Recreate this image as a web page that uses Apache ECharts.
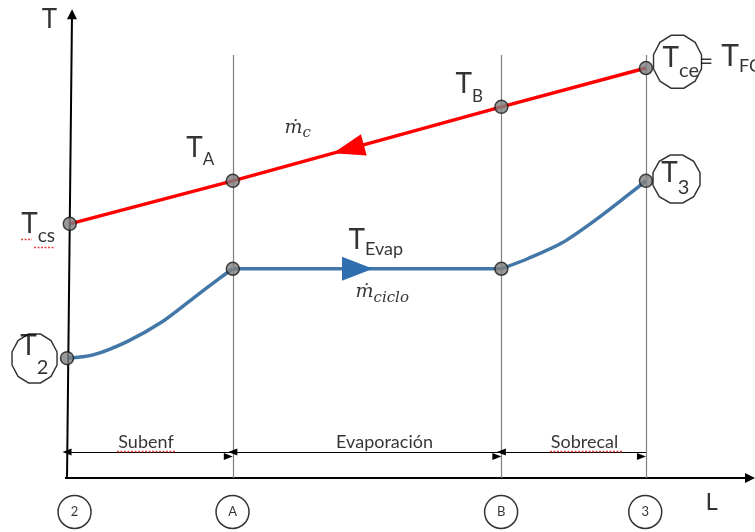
<!DOCTYPE html>
<html>
<head>
<meta charset="utf-8">
<title>Perfil de temperaturas</title>
<script src="https://cdn.jsdelivr.net/npm/echarts@6.0.0/dist/echarts.min.js"></script>
<style>
  html, body { margin: 0; padding: 0; background: #ffffff; }
  #chart { width: 755px; height: 532px; }
</style>
</head>
<body>
<div id="chart"></div>
<script>
// ---- data: temperature profile T along exchanger length L ----
const stationNames = ['2', 'A', 'B', '3'];
const stationL = [0, 24.2, 63.4, 84.5];
// hot stream: T_cs, T_A, T_B, T_ce
const hotL = [0.4, 24.2, 63.4, 84.5];
const hotT = [54.3, 63.5, 79.3, 87.6];
// cold stream: subcooled, evaporating, superheated zones
const coldSubL = [0, 3.8, 8.7, 13.6, 18.4, 22.3, 24.2];
const coldSubT = [25.6, 26.3, 29.1, 33.1, 38.4, 42.7, 44.7];
const coldEvapL = [24.2, 63.4];
const coldEvapT = [44.7, 44.7];
const coldSupL = [63.4, 67.3, 72.2, 77.1, 81.9, 84.5];
const coldSupT = [44.7, 46.9, 50.2, 55.1, 60.5, 63.5];
const zoneNames = ['Subenf', 'Evaporación', 'Sobrecal'];

// ---- layout ----
const LATO = 'Lato';
const SERIF = 'DejaVu Serif';
const RED = '#ff0000';
const BLUE = '#4277a8';
const BLUE_ARROW = '#2f6fb0';
const dimT = 5.56;          // height of the zone dimension arrows
const stationTop = 90.4;    // top of the vertical station lines
const zip = (xs, ys) => xs.map((x, i) => [x, ys[i]]);
function interp(xs, ys, x) {
  for (let i = 1; i < xs.length; i++) {
    if (x <= xs[i]) {
      const t = (x - xs[i - 1]) / (xs[i] - xs[i - 1]);
      return ys[i - 1] + t * (ys[i] - ys[i - 1]);
    }
  }
  return ys[ys.length - 1];
}

// text with a subscript: main glyph followed by a lowered, smaller run
function subLabel(main, sub, F, fs, drop, family, italic) {
  const k = family === LATO ? 0.387 : 0.346;
  const pad = drop + 15 + k * (F - fs) - fs / 2;
  const fontStyle = italic ? 'italic' : 'normal';
  return {
    show: true, position: [0, 0], align: 'left', verticalAlign: 'top',
    formatter: '{a|' + main + '}{b|' + sub + '}',
    rich: {
      a: { fontSize: F, fontFamily: family, fontStyle, color: '#000', height: 30, lineHeight: 30, verticalAlign: 'top' },
      b: { fontSize: fs, fontFamily: family, fontStyle, color: '#000', height: fs, lineHeight: 30,
           padding: [pad, 0, 0, 0], verticalAlign: 'top' }
    }
  };
}
function plainLabel(text, size, family) {
  return {
    show: true, position: [0, 0], align: 'center', verticalAlign: 'middle',
    formatter: text, fontSize: size, fontFamily: family || LATO, color: '#000'
  };
}

// anchor [L, T] of each subscripted label, main size, sub size, drop
const subNotes = [
  ['T', 'cs',   [-6.61, 57.44], 28, 19, 8.3, LATO, false],
  ['T', 'A',    [17.47, 73.68], 28, 17, 7.7, LATO, false],
  ['T', 'B',    [56.78, 87.22], 28, 17, 7.7, LATO, false],
  ['T', 'Evap', [41.16, 53.87], 28, 18, 5.0, LATO, false],
  ['T', 'ce',   [86.99, 92.87], 28, 20, 9.7, LATO, false],
  ['T', '3',    [86.80, 68.37], 28, 20, 12.3, LATO, false],
  ['T', '2',    [-6.76, 31.29], 28, 20, 18.3, LATO, false],
  ['T', 'FC',   [95.56, 93.23], 30, 18, 5.0, LATO, false],
  ['ṁ', 'c',    [31.82, 77.90], 19, 15, 3.3, SERIF, true],
  ['ṁ', 'ciclo',[42.18, 42.93], 19, 15, 5.0, SERIF, true]
];
const plainNotes = [
  ['T', [-2.48, 97.86], 26],
  ['L', [94.15, -5.34], 24],
  ['=', [93.37, 88.95], 24],
  [zoneNames[0], [11.60, 7.65], 18],
  [zoneNames[1], [46.42, 7.65], 18],
  [zoneNames[2], [75.61, 7.65], 18]
];
// circled state labels around T_ce, T_3, T_2
const ringPos = [[89.11, 88.93], [88.96, 63.89], [-4.74, 25.53]];
const ringSize = [[48, 53], [47, 48], [45, 49]];
const stationRingL = [1.1, 24.16, 63.36, 84.4];
const stationRingT = -7.26;
const dodecagon = 'path://M98.3 62.9L85.4 85.4L62.9 98.3L37.1 98.3L14.6 85.4L1.7 62.9L1.7 37.1L14.6 14.6L37.1 1.7L62.9 1.7L85.4 14.6L98.3 37.1Z';

const noteData = subNotes.map(n => ({
  value: n[2], label: subLabel(n[0], n[1], n[3], n[4], n[5], n[6], n[7])
})).concat(plainNotes.map(n => ({ value: n[1], label: plainLabel(n[0], n[2]) })));

const hidden = { color: 'rgba(0,0,0,0)' };
const noLabel = { show: false };

const chart = echarts.init(document.getElementById('chart'), null, { renderer: 'canvas' });
chart.setOption({
  animation: false,
  backgroundColor: '#ffffff',
  grid: { left: 0, right: 0, top: 10, bottom: 0 },
  xAxis: { type: 'value', min: -9.78, max: 100.42, show: false },
  yAxis: { type: 'value', min: -11.54, max: 100, show: false },
  series: [
    { // coordinate axes
      type: 'line', data: [], clip: false, silent: true,
      markLine: {
        silent: true, symbol: ['none', 'triangle'], symbolSize: [10, 10], label: noLabel,
        lineStyle: { color: '#000', width: 2, type: 'solid' },
        data: [
          [{ coord: [0, 0] }, { coord: [0.73, 99.08] }],
          [{ coord: [-0.3, 0] }, { coord: [99.69, 0] }]
        ]
      }
    },
    { // vertical station lines
      type: 'line', data: [], clip: false, silent: true,
      markLine: {
        silent: true, symbol: ['none', 'none'], label: noLabel,
        lineStyle: { color: '#7f7f7f', width: 1.2, type: 'solid' },
        data: stationL.slice(1).map(L => [{ coord: [L, 0] }, { coord: [L, stationTop] }])
      }
    },
    { // zone dimension arrows
      type: 'line', data: [], clip: false, silent: true,
      markLine: {
        silent: true, symbol: ['triangle', 'triangle'], symbolSize: [7, 9], symbolOffset: [0, 4.5],
        label: noLabel,
        lineStyle: { color: '#000', width: 1, type: 'solid' },
        data: zoneNames.map((z, i) => [{ coord: [stationL[i], dimT] }, { coord: [stationL[i + 1], dimT] }])
      }
    },
    { // spell-check underlines
      type: 'line', data: [], clip: false, silent: true, z: 4,
      markLine: {
        silent: true, symbol: ['none', 'none'], label: noLabel,
        lineStyle: { color: '#e8453c', width: 1.4, type: [2, 1.5] },
        data: [
          [{ coord: [-6.71, 51.07] }, { coord: [-5.11, 51.07] }],
          [{ coord: [-4.82, 49.36] }, { coord: [-1.75, 49.36] }],
          [{ coord: [7.30, 5.7] }, { coord: [15.91, 5.7] }],
          [{ coord: [70.50, 5.7] }, { coord: [81.15, 5.7] }]
        ]
      }
    },
    { // hot stream
      type: 'line', data: zip(hotL, hotT), symbol: 'none', clip: false, z: 3,
      lineStyle: { color: RED, width: 3.5 },
      markPoint: {
        silent: true, label: noLabel,
        data: [{ coord: [41.07, interp(hotL, hotT, 41.07)], symbol: 'triangle',
                 symbolSize: [22, 32], symbolRotate: 105.2, itemStyle: { color: RED } }]
      }
    },
    { type: 'line', data: zip(coldSubL, coldSubT), symbol: 'none', smooth: 0.3,
      clip: false, z: 3, lineStyle: { color: BLUE, width: 3.5 } },
    { type: 'line', data: zip(coldEvapL, coldEvapT), symbol: 'none', clip: false, z: 3,
      lineStyle: { color: BLUE, width: 3.5 },
      markPoint: {
        silent: true, label: noLabel,
        data: [{ coord: [42.4, interp(coldEvapL, coldEvapT, 42.4)], symbol: 'triangle',
                 symbolSize: [24, 31], symbolRotate: -90, itemStyle: { color: BLUE_ARROW } }]
      }
    },
    { type: 'line', data: zip(coldSupL, coldSupT), symbol: 'none', smooth: 0.3,
      clip: false, z: 3, lineStyle: { color: BLUE, width: 3.5 } },
    { // state points
      type: 'scatter', clip: false, z: 5, symbolSize: 13,
      itemStyle: { color: '#808080', borderColor: '#1a1a1a', borderWidth: 1.5 },
      data: zip(hotL, hotT).concat([
        [coldSubL[0], coldSubT[0]],
        [coldEvapL[0], coldEvapT[0]],
        [coldEvapL[1], coldEvapT[1]],
        [coldSupL[coldSupL.length - 1], coldSupT[coldSupT.length - 1]]
      ])
    },
    { // rings around state labels
      type: 'scatter', clip: false, z: 4, symbol: dodecagon,
      itemStyle: { color: 'rgba(0,0,0,0)', borderColor: '#000', borderWidth: 1.5 },
      data: ringPos.map((p, i) => ({ value: p, symbolSize: ringSize[i] }))
    },
    { // station markers under the L axis
      type: 'scatter', clip: false, z: 4, symbol: 'circle', symbolSize: 33,
      itemStyle: { color: '#fff', borderColor: '#000', borderWidth: 1.5 },
      label: { show: true, position: 'inside', fontSize: 13, fontFamily: LATO, color: '#000',
               formatter: p => stationNames[p.dataIndex] },
      data: stationRingL.map(L => [L, stationRingT])
    },
    { // text annotations
      type: 'scatter', clip: false, z: 10, symbolSize: 1, silent: true,
      itemStyle: hidden, data: noteData
    }
  ]
});
</script>
</body>
</html>
